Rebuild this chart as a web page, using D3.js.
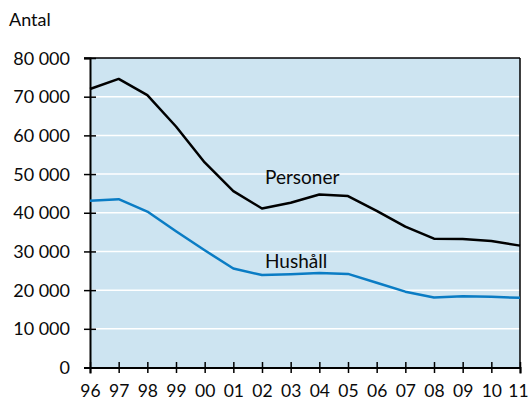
<!DOCTYPE html>
<html>
<head>
<meta charset="utf-8">
<script src="https://cdn.jsdelivr.net/npm/d3@7"></script>
<style>
  html, body { margin: 0; padding: 0; background: #fff; }
  svg { display: block; font-family: "Lato", "Open Sans", sans-serif; }
</style>
</head>
<body>
<svg id="chart" width="529" height="399"></svg>
<script>
// Years on the x axis (two-digit labels)
const years = ["96","97","98","99","00","01","02","03","04","05","06","07","08","09","10","11"];
// Number of persons
const personer = [72000, 74600, 70400, 62300, 53000, 45600, 41100, 42600, 44700, 44300, 40500, 36400, 33300, 33200, 32700, 31500];
// Number of households
const hushall = [43100, 43500, 40300, 35200, 30300, 25600, 23900, 24100, 24400, 24200, 21900, 19600, 18100, 18400, 18300, 18000];
const yTicks = [0, 10000, 20000, 30000, 40000, 50000, 60000, 70000, 80000];

const svg = d3.select("#chart");
const plotL = 90, plotR = 520, plotT = 58, plotB = 367.5;
const ink = "#0a0a0a";

const x = d3.scalePoint().domain(years).range([plotL, plotR]);
const y = d3.scaleLinear().domain([0, 80000]).range([plotB, plotT]);

const fmt = v => d3.format(",")(v).replace(/,/g, " ");

// Plot background
svg.append("rect")
  .attr("x", plotL).attr("y", plotT)
  .attr("width", plotR - plotL).attr("height", plotB - plotT)
  .attr("fill", "#cde4f1");

// White horizontal grid lines
svg.append("g").selectAll("line")
  .data(yTicks.filter(d => d > 0 && d < 80000))
  .join("line")
  .attr("x1", plotL).attr("x2", plotR)
  .attr("y1", d => y(d)).attr("y2", d => y(d))
  .attr("stroke", "#fff").attr("stroke-width", 1.5);

// Frame: top and right edges
svg.append("line").attr("x1", plotL - 6).attr("x2", plotR).attr("y1", plotT).attr("y2", plotT)
  .attr("stroke", "#000").attr("stroke-width", 1.5);
svg.append("line").attr("x1", plotR).attr("x2", plotR).attr("y1", plotT).attr("y2", plotB)
  .attr("stroke", "#000").attr("stroke-width", 1.5);

// Y axis: ticks cross the axis line
const yAxis = svg.append("g")
  .attr("transform", `translate(${plotL},0)`)
  .call(d3.axisLeft(y).tickValues(yTicks).tickFormat(fmt).tickSize(6));
yAxis.select(".domain").attr("stroke", "#000").attr("stroke-width", 2);
yAxis.selectAll(".tick line").attr("x1", -6).attr("x2", 6).attr("stroke-width", 1.5);
yAxis.selectAll(".tick text")
  .attr("x", -20).attr("dy", "0.34em")
  .attr("font-size", 18).attr("fill", ink)
  .attr("font-family", "Lato, 'Open Sans', sans-serif");

// X axis
const xAxis = svg.append("g")
  .attr("transform", `translate(0,${plotB})`)
  .call(d3.axisBottom(x).tickSize(6));
xAxis.select(".domain").attr("stroke", "#000").attr("stroke-width", 2);
xAxis.selectAll(".tick line").attr("y1", -5.5).attr("y2", 5.5).attr("stroke-width", 1.5);
xAxis.selectAll(".tick text")
  .attr("y", 29).attr("dy", 0)
  .attr("font-size", 17.5).attr("fill", ink)
  .attr("font-family", "Lato, 'Open Sans', sans-serif");
// keep the last year label inside the page edge
xAxis.selectAll(".tick text").filter(d => d === years[years.length - 1]).attr("dx", -2);

// Series lines
const line = d3.line().x((d, i) => x(years[i])).y(d => y(d));
svg.append("path").datum(hushall)
  .attr("d", line).attr("fill", "none")
  .attr("stroke", "#0a7cc4").attr("stroke-width", 2.5).attr("stroke-linejoin", "round");
svg.append("path").datum(personer)
  .attr("d", line).attr("fill", "none")
  .attr("stroke", "#000").attr("stroke-width", 2.5).attr("stroke-linejoin", "round");

// Series labels
svg.append("text").attr("x", 265).attr("y", 184).attr("font-size", 19).attr("fill", ink).text("Personer");
svg.append("text").attr("x", 265).attr("y", 268).attr("font-size", 19).attr("fill", ink).text("Hushåll");

// Axis title
svg.append("text").attr("x", 9).attr("y", 26).attr("font-size", 18).attr("fill", ink).text("Antal");
</script>
</body>
</html>
